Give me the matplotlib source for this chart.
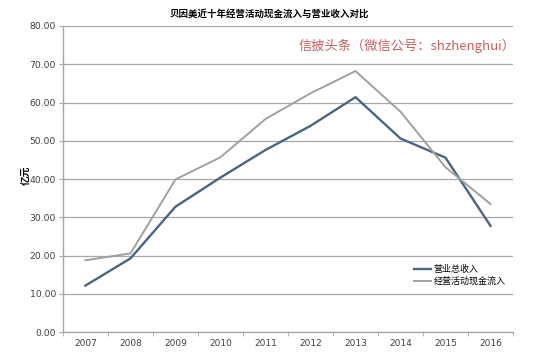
import matplotlib
matplotlib.use("Agg")
import matplotlib.pyplot as plt
import numpy as np

plt.rcParams['font.family'] = ['Noto Sans CJK SC', 'DejaVu Sans']

years = ["2007", "2008", "2009", "2010", "2011", "2012", "2013", "2014", "2015", "2016"]
revenue = [12.2, 19.3, 32.8, 40.4, 47.6, 53.9, 61.4, 50.6, 45.6, 27.8]
operating_cash_inflow = [18.8, 20.6, 39.9, 45.7, 55.7, 62.4, 68.2, 57.6, 43.1, 33.5]
y_ticks = [0, 10, 20, 30, 40, 50, 60, 70, 80]

revenue_color = "#4a6583"
cash_color = "#a0a0a0"
grid_color = "#a8a8a8"

figure = plt.figure(figsize=(5.5, 3.55), dpi=100)
axis = figure.add_axes([0.1145, 0.064, 0.8182, 0.863])

positions = np.arange(len(years))
axis.plot(positions, revenue, color=revenue_color, linewidth=1.7, label="营业总收入", zorder=3)
axis.plot(positions, operating_cash_inflow, color=cash_color, linewidth=1.4, label="经营活动现金流入", zorder=3)

axis.set_xlim(-0.5, len(years) - 0.5)
axis.set_ylim(0, 80)
axis.set_yticks(y_ticks)
axis.set_yticklabels([f"{v:.2f}" for v in y_ticks], fontsize=6.7, color="#404040", family="DejaVu Sans")
axis.set_xticks(positions)
axis.set_xticklabels(years, fontsize=6.5, color="#404040", family="DejaVu Sans")
axis.set_xticks(np.arange(-0.5, len(years)), minor=True)
axis.tick_params(axis="x", which="major", length=0, pad=5)
axis.tick_params(axis="x", which="minor", length=3, color=grid_color, direction="out")
axis.tick_params(axis="y", length=3, color=grid_color, pad=2)

axis.grid(axis="y", color=grid_color, linewidth=0.9)
axis.set_axisbelow(True)
for side in ["top", "right"]:
    axis.spines[side].set_visible(False)
for side in ["left", "bottom"]:
    axis.spines[side].set_color(grid_color)
    axis.spines[side].set_linewidth(1.0)

axis.set_ylabel("亿元", fontsize=7, fontweight="bold")
axis.yaxis.set_label_coords(-0.072, 0.513)

figure.text(0.49, 0.962, "贝因美近十年经营活动现金流入与营业收入对比", ha="center", va="center",
            fontsize=6.8, fontweight="bold")
figure.text(0.937, 0.872, "信披头条（微信公号：shzhenghui）", ha="right", va="center",
            fontsize=9.5, color="#c8605e")

axis.legend(loc="upper left", bbox_to_anchor=(0.766, 0.241), frameon=False, fontsize=6.5,
            handlelength=1.9, handletextpad=0.3, labelspacing=0.3, borderpad=0.2)

figure.savefig("out.png", dpi=100)
plt.close(figure)
